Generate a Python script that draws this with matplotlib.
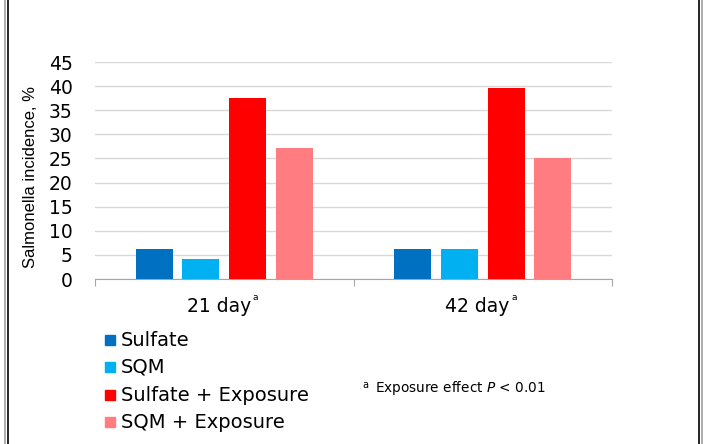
import numpy as np
import matplotlib.pyplot as plt
from matplotlib.lines import Line2D

groups = ["21 day", "42 day"]
series = ["Sulfate", "SQM", "Sulfate + Exposure", "SQM + Exposure"]
sulfate = [6.25, 6.25]
sqm = [4.17, 6.25]
sulfate_exp = [37.5, 39.6]
sqm_exp = [27.1, 25.0]
colors = ["#0070C0", "#00B0F0", "#FF0000", "#FF7C80"]

values = [sulfate, sqm, sulfate_exp, sqm_exp]

fig = plt.figure(figsize=(7.13, 4.44), dpi=100)
ax = fig.add_axes([95 / 713, 1 - 279 / 444, (612 - 95) / 713, (279 - 62) / 444])

x = np.arange(len(groups))
width = 0.143
step = 0.181
offsets = (np.arange(len(series)) - 1.5) * step
for vals, off, c, name in zip(values, offsets, colors, series):
    ax.bar(x + off, vals, width, color=c, label=name, zorder=3)

ax.set_xlim(-0.5, 1.5)
ax.set_ylim(0, 45)
ax.set_yticks(np.arange(0, 46, 5))
ax.yaxis.grid(True, color="#D9D9D9", linewidth=1, zorder=0)
for s in ["top", "right", "left"]:
    ax.spines[s].set_visible(False)
ax.spines["bottom"].set_color("#A6A6A6")
ax.tick_params(axis="y", length=0, labelsize=13.5, pad=16)
ax.set_xticks([-0.5, 0.5, 1.5])
ax.set_xticklabels([])
ax.tick_params(axis="x", length=5, color="#A6A6A6")
for xi, g in zip(x, groups):
    t = ax.text(xi - 0.02, -3.8, g, ha="center", va="top", fontsize=13.5)
    ax.annotate("a", xy=(1, 1), xycoords=t, xytext=(1, 3), textcoords="offset points",
                fontsize=6.5, ha="left", va="top")

fig.text(31 / 713, 1 - 177 / 444, "Salmonella incidence, %", rotation=90,
         ha="center", va="center", fontsize=12, family="Liberation Sans")

# legend drawn manually
leg_y = [340, 367, 395, 422]
for yy, c, name in zip(leg_y, colors, series):
    fig.patches.append(plt.Rectangle((105 / 713, 1 - (yy + 5) / 444), 10 / 713, 10 / 444,
                                     transform=fig.transFigure, color=c, figure=fig))
    fig.text(121 / 713, 1 - yy / 444, name, va="center", ha="left", fontsize=14)

fig.text(362 / 713, 1 - 385 / 444, "a", fontsize=7, va="center")
fig.text(375 / 713, 1 - 388 / 444, "Exposure effect $\\mathit{P}$ < 0.01",
         fontsize=9.8, va="center")

# double frame on the sides
for xx, c in [(5, "#A0A0A0"), (8, "black"), (699, "black"), (702, "#A0A0A0")]:
    fig.add_artist(Line2D([xx / 713, xx / 713], [0, 1], color=c, linewidth=1.2,
                          transform=fig.transFigure))

fig.savefig("out.png", dpi=100)
